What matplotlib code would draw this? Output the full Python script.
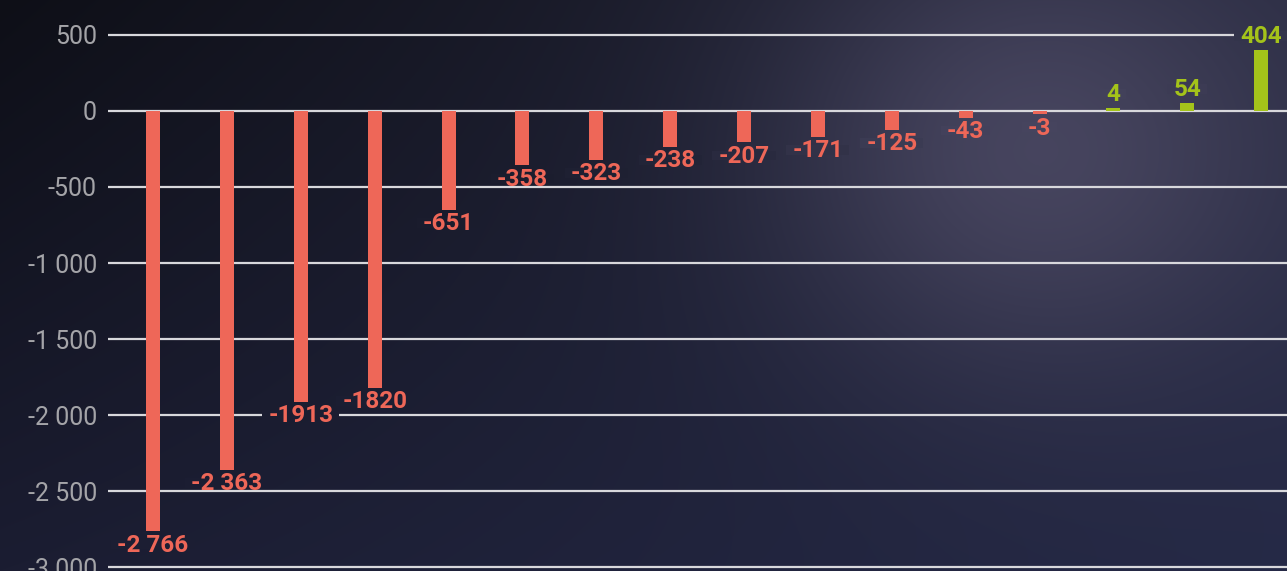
import numpy as np
import matplotlib.pyplot as plt
from matplotlib.patches import Rectangle
from matplotlib.ticker import FuncFormatter

# data
values = [-2766, -2363, -1913, -1820, -651, -358, -323, -238, -207, -171, -125, -43, -3, 4, 54, 404]
value_labels = ['-2 766', '-2 363', '-1913', '-1820', '-651', '-358', '-323', '-238', '-207',
                '-171', '-125', '-43', '-3', '4', '54', '404']
yticks = [500, 0, -500, -1000, -1500, -2000, -2500, -3000]

neg_color = '#ee6758'
pos_color = '#a4c31a'
min_bar = 22  # smallest drawn bar length in data units, so tiny values stay visible
W, H = 1287, 571
label_size = 17.5

plt.rcParams['font.family'] = ['Roboto', 'DejaVu Sans']

''' background gradient '''
yy, xx = np.mgrid[0:H, 0:W]
u = xx / (W - 1)
v = yy / (H - 1)
tl = np.array([14, 15, 23])
tr = np.array([40, 42, 64])
bl = np.array([27, 29, 50])
br = np.array([37, 41, 70])
bg = (tl * ((1 - u) * (1 - v))[..., None] + tr * (u * (1 - v))[..., None]
      + bl * ((1 - u) * v)[..., None] + br * (u * v)[..., None])
glow = np.exp(-(((xx - 1040) / 260.0) ** 2 + ((yy - 150) / 230.0) ** 2))
bg = bg + glow[..., None] * (np.array([72, 70, 96]) - bg) * 0.95
bg = np.clip(bg, 0, 255) / 255.0

fig = plt.figure(figsize=(W / 100, H / 100), dpi=100)
bgax = fig.add_axes([0, 0, 1, 1], zorder=0)
bgax.imshow(bg, aspect='auto', extent=[0, W, H, 0])
bgax.axis('off')

''' bars '''
ax = fig.add_axes([108 / W, 0, 1 - 108 / W, 1], zorder=1)
ax.patch.set_alpha(0)
x = np.arange(len(values))
colors = [neg_color if val < 0 else pos_color for val in values]
drawn = [np.sign(val) * max(abs(val), min_bar) for val in values]
ax.bar(x, drawn, width=0.19, color=colors, zorder=3)

ax.set_xlim(-0.61, 15.35)
ax.set_ylim(-3026, 730)
ax.set_yticks(yticks)
ax.yaxis.set_major_formatter(FuncFormatter(lambda val, pos: '{:,.0f}'.format(val).replace(',', ' ')))
ax.grid(axis='y', color='#d8d8dc', linewidth=1.6, zorder=1)
ax.set_axisbelow(True)
ax.set_xticks([])
for s in ax.spines.values():
    s.set_visible(False)
ax.tick_params(axis='y', length=0, pad=8, labelsize=18, labelcolor='#a4a4a8')

# value labels
texts = []
for xi, val, d, lab, c in zip(x, values, drawn, value_labels, colors):
    if val < 0:
        off, va = -1.6, 'top'
    else:
        off, va = 1, 'bottom'
    t = ax.annotate(lab, (xi, d), xytext=(0, off), textcoords='offset points',
                    ha='center', va=va, color=c, fontsize=label_size, fontweight='bold',
                    annotation_clip=False, zorder=4)
    texts.append(t)

# patch of background colour behind the digits so labels cut the grid lines
fig.canvas.draw()
r = fig.canvas.get_renderer()
fs_px = label_size * 100 / 72
inv = ax.transData.inverted()
for t in texts:
    bb = t.get_window_extent(r)
    px0, px1 = bb.x0 - 6, bb.x1 + 6
    py0, py1 = bb.y0 + 0.2 * fs_px + 2.5, bb.y1 - 0.16 * fs_px - 2
    cols = slice(int(max(px0, 0)), int(min(px1, W - 1)) + 1)
    rows = slice(int(max(H - py1, 0)), int(min(H - py0, H - 1)) + 1)
    fc = bg[rows, cols].reshape(-1, 3).mean(axis=0)
    (dx0, dy0), (dx1, dy1) = inv.transform([(px0, py0), (px1, py1)])
    ax.add_patch(Rectangle((dx0, dy0), dx1 - dx0, dy1 - dy0, fc=fc, ec='none',
                           zorder=2, clip_on=False))

plt.savefig('out.png', dpi=100)
